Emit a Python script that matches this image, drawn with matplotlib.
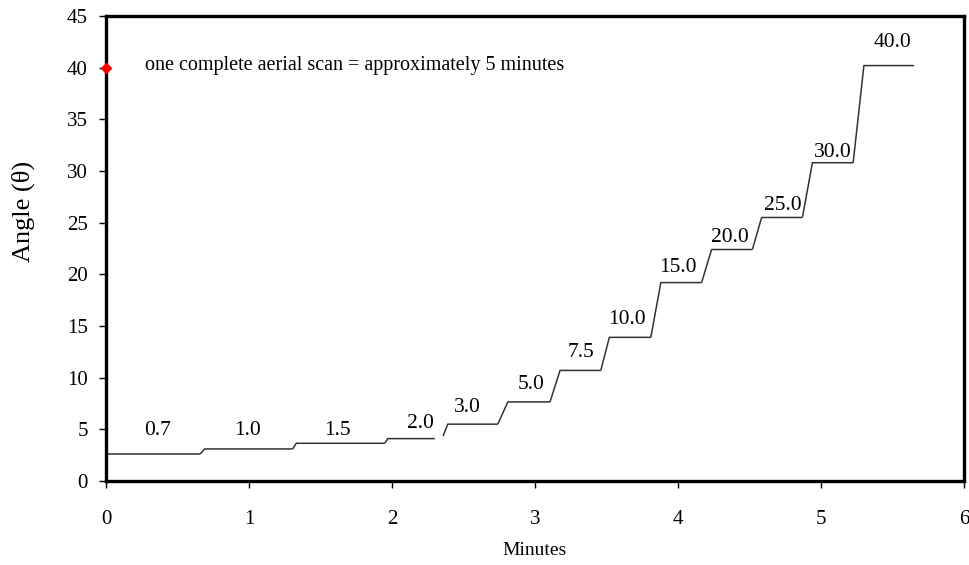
import matplotlib
matplotlib.use("Agg")
import matplotlib.pyplot as plt

# step levels (angle) and the time span of each flat part
labels = ["0.7", "1.0", "1.5", "2.0", "3.0", "5.0", "7.5", "10.0",
          "15.0", "20.0", "25.0", "30.0", "40.0"]
angle = [2.6, 3.1, 3.65, 4.1, 5.5, 7.65, 10.7, 13.9, 19.2, 22.4, 25.5, 30.8, 40.2]
t_start = [0.0, 0.69, 1.33, 1.97, 2.39, 2.81, 3.175, 3.52, 3.88, 4.235, 4.585, 4.94, 5.30]
t_end = [0.657, 1.305, 1.95, 2.30, 2.74, 3.105, 3.46, 3.81, 4.165, 4.52, 4.87, 5.225, 5.65]

# where each rise begins (None -> continue from previous step end)
rise_from = [None, None, None, None, (2.357, 4.35), None, None, None,
             None, None, None, None, None]

# label anchor points
label_t = [0.36, 0.99, 1.62, 2.2, 2.53, 2.97, 3.32, 3.64, 4.0, 4.36, 4.73, 5.08, 5.5]
label_y = [4.9, 4.9, 4.9, 5.6, 7.1, 9.3, 12.4, 15.6, 20.7, 23.6, 26.7, 31.8, 42.4]

scan_t, scan_angle = 0.0, 40.0

plt.rcParams['font.family'] = ['Liberation Serif', 'DejaVu Serif']

fig = plt.figure(figsize=(9.7, 5.65), dpi=100)
ax = fig.add_axes([0.1093, 0.1487, 0.8845, 0.823])

for i in range(len(angle)):
    xs, ys = [], []
    if i > 0:
        if rise_from[i] is None:
            xs.append(t_end[i - 1]); ys.append(angle[i - 1])
        else:
            xs.append(rise_from[i][0]); ys.append(rise_from[i][1])
    xs += [t_start[i], t_end[i]]
    ys += [angle[i], angle[i]]
    ax.plot(xs, ys, color="#333333", lw=1.1, solid_capstyle="butt")
    ax.text(label_t[i], label_y[i], labels[i], ha="center", va="center",
            fontsize=15.5)

ax.plot([scan_t], [scan_angle], marker="D", color="red", ms=5,
        clip_on=False, zorder=5)
ax.text(0.27, 40.2, "one complete aerial scan = approximately 5 minutes",
        ha="left", va="center", fontsize=14.5)

ax.set_xlim(0, 6)
ax.set_ylim(0, 45)
ax.set_xticks(range(0, 7))
ax.set_yticks(range(0, 46, 5))
ax.tick_params(direction="out", length=5, width=1, labelsize=15)
ax.tick_params(axis="y", pad=8)
ax.tick_params(axis="x", pad=16)
for s in ax.spines.values():
    s.set_linewidth(2.4)

ax.set_xlabel("Minutes", fontsize=14, labelpad=9)
ax.set_ylabel("Angle (\u03b8)", fontsize=19, va="center")
ax.yaxis.set_label_coords(-0.096, 0.58)

fig.savefig("out.png", dpi=100)
